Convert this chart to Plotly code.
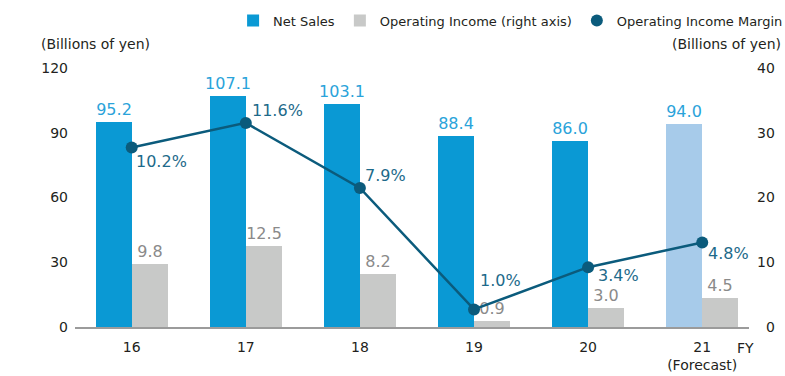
import plotly.graph_objects as go

# Fiscal years and their axis labels
years = ["16", "17", "18", "19", "20", "21"]
year_labels = ["16", "17", "18", "19", "20", "21<br>(Forecast)"]

# Billions of yen
net_sales = [95.2, 107.1, 103.1, 88.4, 86.0, 94.0]
operating_income = [9.8, 12.5, 8.2, 0.9, 3.0, 4.5]

# Percent
operating_margin = [10.2, 11.6, 7.9, 1.0, 3.4, 4.8]

left_ticks = [0, 30, 60, 90, 120]
right_ticks = [0, 10, 20, 30, 40]

# Styling
FONT = "DejaVu Sans"
BLUE = "#0a99d4"
BLUE_FORECAST = "#a7cbea"
GREY = "#c8c9c8"
LINE = "#0b5b7c"
BLUE_TEXT = "#2aa3da"
GREY_TEXT = "#8a8a8a"
MARGIN_TEXT = "#1d6a8a"
TICK = "#231f20"

bar_colors = [BLUE] * (len(years) - 1) + [BLUE_FORECAST]
bar_w = 0.316

# label offsets (px) for the margin labels: (x shift, y shift)
margin_label_shift = [(2, -14), (4, 12), (3, 13), (4, 29), (8, -8), (4, -11)]

fig = go.Figure()

fig.add_trace(go.Bar(
    x=years, y=net_sales, name="Net Sales",
    marker=dict(color=bar_colors, line=dict(width=0)),
    width=bar_w, offset=-bar_w,
    text=[f"{v:.1f}" for v in net_sales], textposition="outside",
    textfont=dict(family=FONT, size=16, color=BLUE_TEXT),
    constraintext="none", cliponaxis=False,
    yaxis="y", hoverinfo="skip",
))

fig.add_trace(go.Bar(
    x=years, y=operating_income, name="Operating Income (right axis)",
    marker=dict(color=GREY, line=dict(width=0)),
    width=bar_w, offset=0,
    text=[f"{v:.1f}" for v in operating_income], textposition="outside",
    textfont=dict(family=FONT, size=16, color=GREY_TEXT),
    constraintext="none", cliponaxis=False,
    yaxis="y2", hoverinfo="skip",
))

fig.add_trace(go.Scatter(
    x=years, y=operating_margin, mode="lines",
    line=dict(color=LINE, width=2.5), showlegend=False,
    yaxis="y3", cliponaxis=False, hoverinfo="skip",
))

fig.add_trace(go.Scatter(
    x=years, y=operating_margin, mode="markers", name="Operating Income Margin",
    marker=dict(color=LINE, size=12),
    yaxis="y3", cliponaxis=False, hoverinfo="skip",
))

# category axes take the category index for annotation positions
for i, (m, (dx, dy)) in enumerate(zip(operating_margin, margin_label_shift)):
    fig.add_annotation(
        x=i, y=m, xref="x", yref="y3", text=f"{m:.1f}%", showarrow=False,
        xanchor="left", yanchor="middle", xshift=dx, yshift=dy,
        font=dict(family=FONT, size=16, color=MARGIN_TEXT),
    )

# axis captions
fig.add_annotation(x=-0.0534, y=1.092, xref="paper", yref="paper", text="(Billions of yen)",
                   showarrow=False, xanchor="left", yanchor="middle",
                   font=dict(family=FONT, size=14, color=TICK))
fig.add_annotation(x=1.05, y=1.092, xref="paper", yref="paper", text="(Billions of yen)",
                   showarrow=False, xanchor="right", yanchor="middle",
                   font=dict(family=FONT, size=14, color=TICK))
fig.add_annotation(x=0.979, y=-0.08, xref="paper", yref="paper", text="FY",
                   showarrow=False, xanchor="left", yanchor="middle",
                   font=dict(family=FONT, size=14, color=TICK))

fig.update_layout(
    width=785, height=376,
    margin=dict(l=75, r=36, t=68, b=49, autoexpand=False),
    paper_bgcolor="white", plot_bgcolor="white",
    font=dict(family=FONT, size=14, color=TICK),
    showlegend=True,
    legend=dict(orientation="h", x=1.058, xanchor="right", y=1.183, yanchor="middle",
                font=dict(family=FONT, size=13, color=TICK),
                bgcolor="rgba(0,0,0,0)", itemsizing="constant", itemwidth=30,
                traceorder="normal"),
    bargap=0, bargroupgap=0,
    xaxis=dict(
        type="category", categoryorder="array", categoryarray=years,
        range=[-0.497, 5.41], tickvals=years, ticktext=year_labels,
        showgrid=False, zeroline=False, showline=True, linecolor="#9b9b9b", linewidth=2,
        ticks="", ticklabelstandoff=6, tickfont=dict(family=FONT, size=14, color=TICK),
        automargin=False,
    ),
    yaxis=dict(
        range=[0, 120], tickvals=left_ticks, showgrid=False, zeroline=False,
        showline=False, ticks="", ticklabelstandoff=6,
        tickfont=dict(family=FONT, size=14, color=TICK), automargin=False,
    ),
    yaxis2=dict(
        range=[0, 40], tickvals=right_ticks,
        ticktext=[("\u2007" + str(t)) if t < 10 else str(t) for t in right_ticks],
        overlaying="y", side="right", showgrid=False, zeroline=False, showline=False,
        ticks="", ticklabelstandoff=7, tickfont=dict(family=FONT, size=14, color=TICK),
        automargin=False,
    ),
    yaxis3=dict(range=[0, 14.72], overlaying="y", side="right", showgrid=False,
                zeroline=False, showline=False, ticks="", showticklabels=False,
                automargin=False),
)

fig.write_html("out.html")
